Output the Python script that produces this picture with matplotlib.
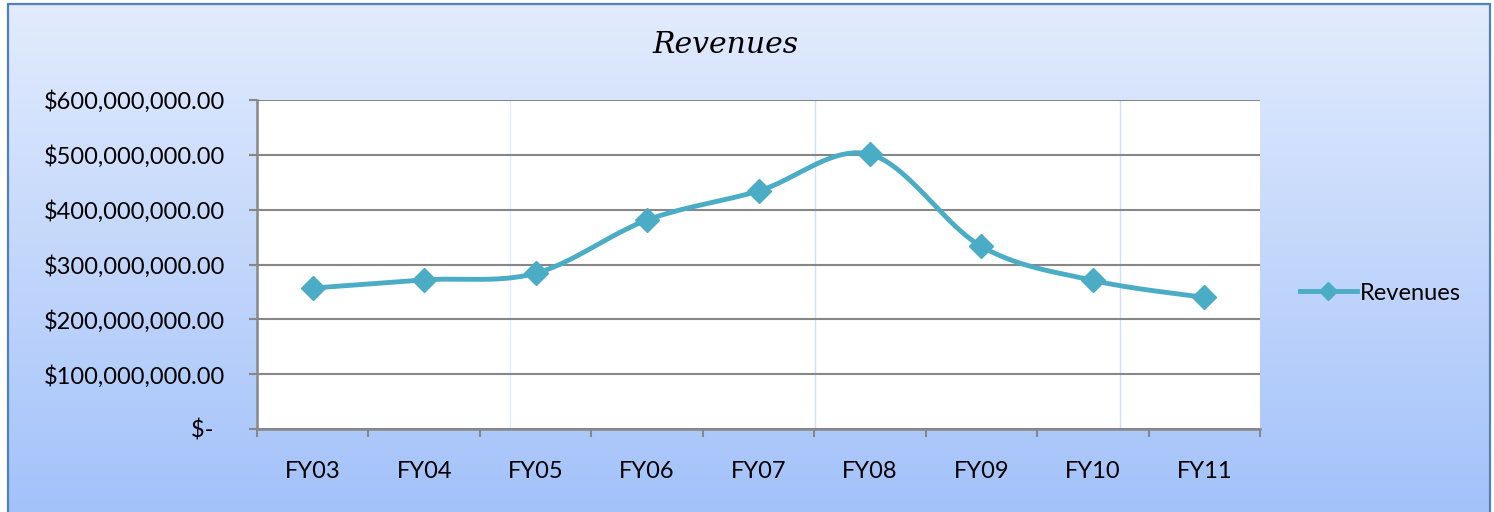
import numpy as np
import matplotlib
matplotlib.use("Agg")
import matplotlib.pyplot as plt
from matplotlib.patches import Rectangle
from matplotlib.lines import Line2D
from matplotlib.ticker import FixedLocator, FuncFormatter

categories = ["FY03", "FY04", "FY05", "FY06", "FY07", "FY08", "FY09", "FY10", "FY11"]
revenues = [257e6, 272e6, 284e6, 381e6, 434e6, 501e6, 333e6, 271e6, 240e6]
y_ticks = [0, 100e6, 200e6, 300e6, 400e6, 500e6, 600e6]
series_name = "Revenues"
title = "Revenues"

W, H, DPI = 1494, 512, 100
fig = plt.figure(figsize=(W / DPI, H / DPI), dpi=DPI)

def fx(px):
    return px / W

def fy(py):
    return 1 - py / H

# background gradient
bg = fig.add_axes([0, 0, 1, 1], zorder=0)
bg.set_axis_off()
top = np.array([227, 236, 253]) / 255
bot = np.array([163, 194, 250]) / 255
t = np.linspace(0, 1, 256)[:, None]
grad = top[None, :] * (1 - t) + bot[None, :] * t
img = np.repeat(grad[:, None, :], 4, axis=1)
bg.imshow(img, aspect="auto", extent=[0, 1, 0, 1], origin="upper")
bg.set_xlim(0, 1)
bg.set_ylim(0, 1)
# white margins outside the chart frame
bg.add_patch(Rectangle((0, 0), fx(7), 1, color="white", zorder=2))
bg.add_patch(Rectangle((0, fy(3)), 1, 1, color="white", zorder=2))
bg.add_patch(Rectangle((fx(1491), 0), 1, 1, color="white", zorder=2))
# border
bg.plot([fx(8), fx(8), fx(1490), fx(1490)], [0, fy(3.5), fy(3.5), 0],
        color="#4f81bd", lw=1.6, zorder=3, solid_joinstyle="miter")

# main axes
left, right, ytop, ybot = 257, 1260, 100, 429
ax = fig.add_axes([fx(left), fy(ybot), fx(right - left), (ybot - ytop) / H], zorder=2)
ax.set_facecolor("white")

x = np.arange(len(revenues), dtype=float)
y = np.array(revenues, dtype=float)

# Excel-style smoothed line (Catmull-Rom via cubic Bezier)
pts = np.column_stack([x, y])
ext = np.vstack([pts[0], pts, pts[-1]])
curve = []
s = np.linspace(0, 1, 40)[:, None]
for i in range(len(pts) - 1):
    p0, p1, p2, p3 = ext[i], ext[i + 1], ext[i + 2], ext[i + 3]
    c1 = p1 + (p2 - p0) / 6
    c2 = p2 - (p3 - p1) / 6
    seg = ((1 - s) ** 3) * p1 + 3 * ((1 - s) ** 2) * s * c1 + 3 * (1 - s) * s ** 2 * c2 + s ** 3 * p2
    curve.append(seg)
curve = np.vstack(curve)

color = "#4bacc6"
ax.plot(curve[:, 0], curve[:, 1], color=color, lw=3.5, solid_capstyle="round", zorder=3)
ax.plot(x, y, linestyle="none", marker="D", ms=12, color=color, zorder=4)

ax.set_xlim(-0.5, len(categories) - 0.5)
ax.set_ylim(0, 600e6)

# faint vertical artifact lines
for px, c in ((510, "#e3ecf9"), (815, "#cfe0f8"), (1120, "#cfe0f8")):
    ax.axvline((px - left) / (right - left) * len(categories) - 0.5, color=c, lw=1, zorder=1)

ax.yaxis.set_major_locator(FixedLocator(y_ticks))
def yfmt(v, pos):
    if v == 0:
        return "$-  "
    return "${:,.2f}".format(v)
ax.yaxis.set_major_formatter(FuncFormatter(yfmt))
ax.grid(axis="y", color="#878787", lw=1.5, zorder=1)

ax.xaxis.set_major_locator(FixedLocator(np.arange(-0.5, len(categories), 1.0)))
ax.xaxis.set_major_formatter(FuncFormatter(lambda v, p: ""))
ax.xaxis.set_minor_locator(FixedLocator(x))
ax.xaxis.set_minor_formatter(FuncFormatter(lambda v, p: categories[int(round(v))]))
ax.tick_params(axis="x", which="minor", length=0, pad=23, labelsize=17)
ax.tick_params(axis="x", which="major", length=6, width=1.5, color="#878787")
ax.tick_params(axis="y", length=6, width=1.5, color="#878787", pad=17, labelsize=17)

for lab in ax.get_xticklabels(minor=True) + ax.get_yticklabels():
    lab.set_fontfamily("Lato")
    lab.set_color("black")

for sp in ("top", "right"):
    ax.spines[sp].set_visible(False)
for sp in ("left", "bottom"):
    ax.spines[sp].set_color("#878787")
    ax.spines[sp].set_linewidth(1.8)

# title
fig.text(fx(726), fy(45), title, ha="center", va="center", fontsize=21.5,
         family="DejaVu Serif", style="italic", color="black")

# legend
h = Line2D([], [], color=color, lw=3.5, marker="D", ms=9)
leg = fig.legend([h], [series_name], loc="center left",
                 bbox_to_anchor=(fx(1300), fy(293)), frameon=False,
                 prop={"family": "Lato", "size": 17}, handlelength=2.4,
                 handletextpad=0.15, borderpad=0, borderaxespad=0)

fig.savefig("out.png", dpi=DPI)
